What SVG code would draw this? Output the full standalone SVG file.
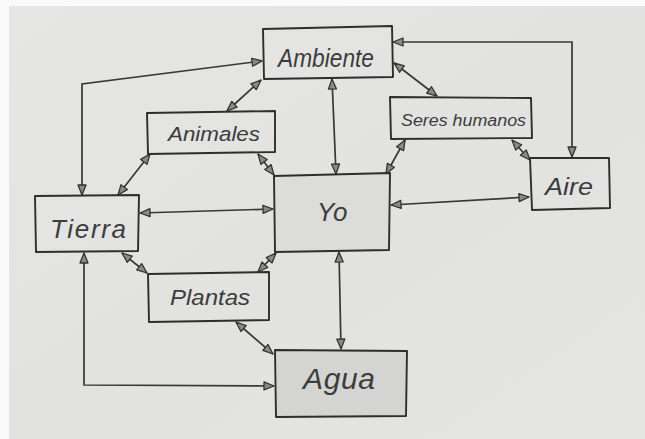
<svg xmlns="http://www.w3.org/2000/svg" width="645" height="439" viewBox="0 0 645 439">
<defs>
<linearGradient id="paper" x1="0" y1="0" x2="1" y2="1">
<stop offset="0" stop-color="#e6e6e4"/>
<stop offset="0.5" stop-color="#e2e2e0"/>
<stop offset="1" stop-color="#e4e4e2"/>
</linearGradient>
<marker id="ah" viewBox="0 0 12 10" refX="11" refY="5" markerWidth="12" markerHeight="10" markerUnits="userSpaceOnUse" orient="auto-start-reverse">
<path d="M1,1 L11,5 L1,9 Z" fill="#8a8a88" stroke="#333" stroke-width="1.3" stroke-linejoin="round"/>
</marker>
</defs>
<style>
.box{fill:none;stroke:#2e2e2e;stroke-width:1.9;stroke-linejoin:round}
.shade{stroke:#2e2e2e;stroke-width:1.9;stroke-linejoin:round}
.lbl{font-family:"Liberation Sans",sans-serif;font-style:italic;fill:#3c3c3c;font-weight:normal}
.c{fill:none;stroke:#383838;stroke-width:1.7;marker-start:url(#ah);marker-end:url(#ah)}
</style>
<rect width="645" height="439" fill="#fafafa"/>
<rect x="9" y="6" width="636" height="433" fill="url(#paper)"/>

<g id="connectors">
<polyline class="c" points="82,195 82,84 262,61"/>
<line class="c" x1="261" y1="80" x2="227" y2="111"/>
<line class="c" x1="332" y1="79" x2="336" y2="174"/>
<line class="c" x1="394" y1="63" x2="437" y2="96"/>
<polyline class="c" points="393,42 572,42 572,157"/>
<line class="c" x1="150" y1="154" x2="118" y2="195"/>
<line class="c" x1="258" y1="154" x2="274" y2="175"/>
<line class="c" x1="405" y1="140" x2="386" y2="174"/>
<line class="c" x1="512" y1="140" x2="530" y2="160"/>
<line class="c" x1="140" y1="213" x2="273" y2="209"/>
<line class="c" x1="391" y1="205" x2="529" y2="197"/>
<line class="c" x1="122" y1="253" x2="147" y2="273"/>
<line class="c" x1="276" y1="253" x2="258" y2="272"/>
<line class="c" x1="339" y1="252" x2="341" y2="349"/>
<line class="c" x1="236" y1="322" x2="273" y2="354"/>
<polyline class="c" points="84,253 84,385 274,386"/>
</g>

<g id="ambiente">
<path class="box" d="M263,29 L392,26 L393,77 L264,79 Z"/>
<text class="lbl" x="278" y="67" font-size="26" textLength="96" lengthAdjust="spacingAndGlyphs">Ambiente</text>
</g>
<g id="animales">
<path class="box" d="M147,113 L275,111 L275,152 L148,154 Z"/>
<text class="lbl" x="168" y="141" font-size="20" textLength="92" lengthAdjust="spacingAndGlyphs">Animales</text>
</g>
<g id="seres">
<path class="box" d="M390,97 L531,98 L532,138 L391,139 Z"/>
<text class="lbl" x="401" y="126" font-size="16" textLength="125" lengthAdjust="spacingAndGlyphs">Seres humanos</text>
</g>
<g id="tierra">
<path class="box" d="M35,196 L139,195 L138,251 L36,252 Z"/>
<text class="lbl" x="50" y="238" font-size="26" textLength="76" lengthAdjust="spacing">Tierra</text>
</g>
<g id="yo">
<path class="shade" fill="#dcdcda" d="M274,176 L390,173 L389,250 L275,252 Z"/>
<text class="lbl" x="317" y="221" font-size="26">Yo</text>
</g>
<g id="aire">
<path class="box" d="M530,158 L609,158 L610,208 L532,210 Z"/>
<text class="lbl" x="545" y="195" font-size="24" textLength="48" lengthAdjust="spacingAndGlyphs">Aire</text>
</g>
<g id="plantas">
<path class="box" d="M148,274 L269,272 L269,320 L149,322 Z"/>
<text class="lbl" x="170" y="305" font-size="22" textLength="80" lengthAdjust="spacingAndGlyphs">Plantas</text>
</g>
<g id="agua">
<path class="shade" fill="#d4d4d2" d="M275,350 L407,351 L406,416 L276,417 Z"/>
<text class="lbl" x="303" y="389" font-size="30" textLength="72" lengthAdjust="spacing">Agua</text>
</g>
</svg>
